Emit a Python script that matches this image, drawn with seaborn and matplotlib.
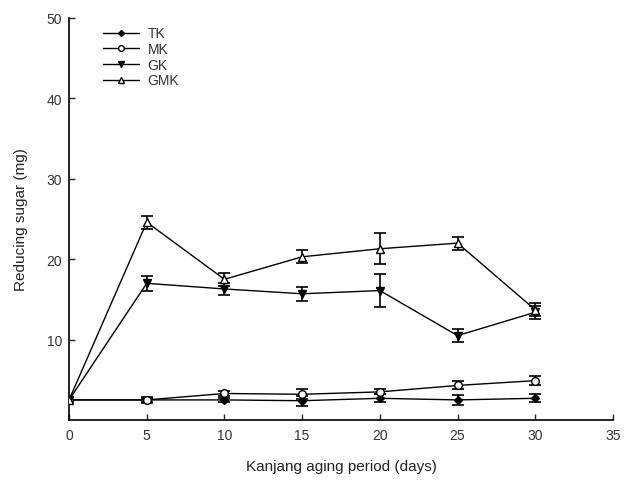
import numpy as np
import pandas as pd
import matplotlib
matplotlib.use('Agg')
import matplotlib.pyplot as plt
import seaborn as sns

# dias de envelhecimento
dias = [0, 5, 10, 15, 20, 25, 30]

# açúcar redutor (mg) e desvios
tk = [2.5, 2.5, 2.5, 2.4, 2.7, 2.5, 2.7]
tk_err = [0.0, 0.3, 0.3, 0.6, 0.5, 0.6, 0.5]
mk = [2.5, 2.5, 3.3, 3.2, 3.5, 4.3, 4.9]
mk_err = [0.0, 0.4, 0.3, 0.6, 0.3, 0.5, 0.6]
gk = [2.5, 17.0, 16.3, 15.7, 16.1, 10.5, 13.4]
gk_err = [0.0, 0.9, 0.8, 0.9, 2.0, 0.8, 0.8]
gmk = [2.5, 24.6, 17.5, 20.3, 21.3, 22.0, 13.7]
gmk_err = [0.0, 0.8, 0.8, 0.8, 1.9, 0.8, 0.8]

x_ticks = [0, 5, 10, 15, 20, 25, 30, 35]
y_ticks = [10, 20, 30, 40, 50]

sns.set_style('ticks')
plt.rcParams['font.family'] = ['Liberation Sans', 'DejaVu Sans']

fig = plt.figure(figsize=(6.31, 4.81), dpi=100)
ax = fig.add_axes([0.1094, 0.1247, 0.862, 0.8358])

series = [
    ('TK', tk, tk_err, 'D', 'black', 4),
    ('MK', mk, mk_err, 'o', 'white', 5.5),
    ('GK', gk, gk_err, 'v', 'black', 6),
    ('GMK', gmk, gmk_err, '^', 'white', 6),
]

for nome, valores, erros, marcador, cor, tam in series:
    df = pd.DataFrame({'dia': dias, 'valor': valores})
    ax.errorbar(dias, valores, yerr=erros, fmt='none', ecolor='black',
                elinewidth=1.2, capsize=4, capthick=1.2, zorder=2)
    sns.lineplot(data=df, x='dia', y='valor', ax=ax, color='black',
                 linewidth=1.0, marker=marcador, markersize=tam,
                 markerfacecolor=cor, markeredgecolor='black',
                 markeredgewidth=1.0, label=nome, zorder=3)

ax.set_xlim(0, 35)
ax.set_ylim(0, 50)
ax.set_xticks(x_ticks)
ax.set_yticks(y_ticks)
sns.despine(ax=ax)
for s in ['left', 'bottom']:
    ax.spines[s].set_linewidth(1.2)
    ax.spines[s].set_color('black')
ax.tick_params(axis='x', direction='in', length=4, width=1, pad=6,
               labelsize=10, labelcolor='#333333')
ax.tick_params(axis='y', direction='in', length=4, width=1, pad=5,
               labelsize=10, labelcolor='#333333')

ax.set_xlabel('Kanjang aging period (days)', fontsize=11, color='#222222', labelpad=12)
ax.set_ylabel('Reducing sugar (mg)', fontsize=11, color='#222222', labelpad=13)

ax.legend(loc='upper left', bbox_to_anchor=(0.04, 1.01), frameon=False,
          fontsize=10, handlelength=2.6, labelspacing=0.12, handletextpad=0.6,
          markerscale=0.75, labelcolor='#333333')

fig.savefig('out.png', dpi=100)
